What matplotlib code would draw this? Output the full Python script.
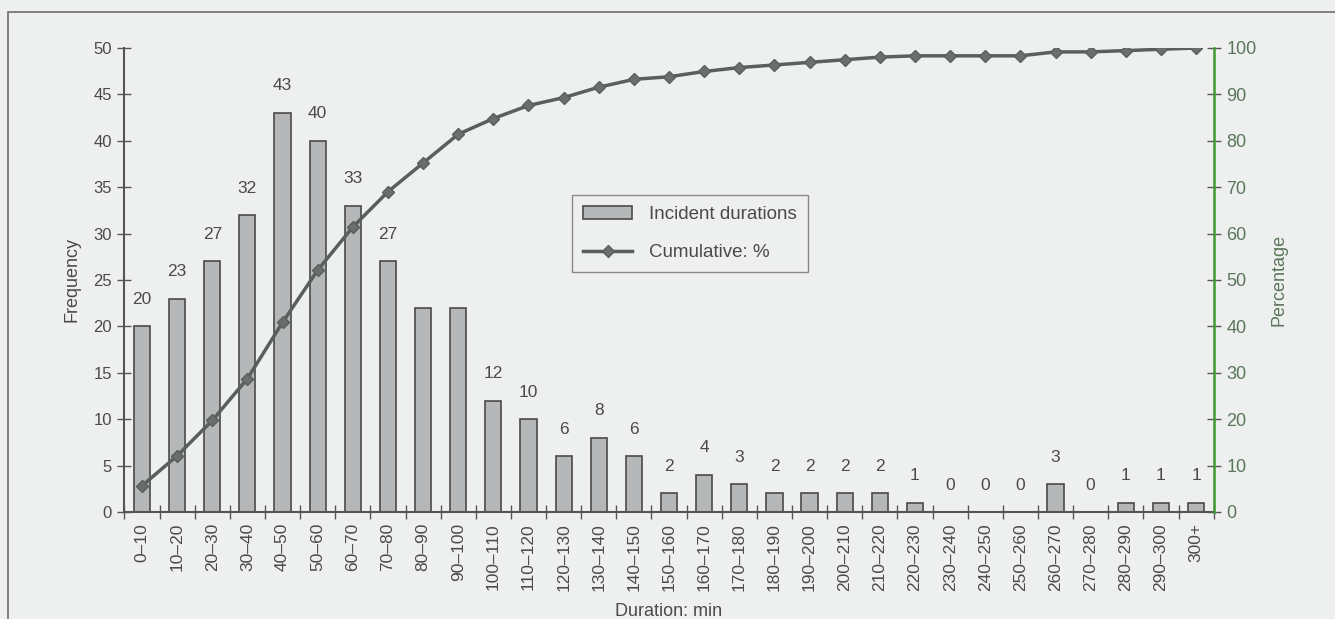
import numpy as np
import matplotlib
matplotlib.use("Agg")
import matplotlib.pyplot as plt
from matplotlib.patches import Rectangle
from matplotlib.ticker import FixedLocator, MultipleLocator

plt.rcParams['font.family'] = ['Liberation Sans', 'DejaVu Sans']

# Duration bins (minutes) and incident counts per bin
categories = ['0–10', '10–20', '20–30', '30–40', '40–50', '50–60', '60–70',
              '70–80', '80–90', '90–100', '100–110', '110–120', '120–130',
              '130–140', '140–150', '150–160', '160–170', '170–180',
              '180–190', '190–200', '200–210', '210–220', '220–230',
              '230–240', '240–250', '250–260', '260–270', '270–280',
              '280–290', '290–300', '300+']
frequencies = [20, 23, 27, 32, 43, 40, 33, 27, 22, 22, 12, 10, 6, 8, 6, 2, 4,
               3, 2, 2, 2, 2, 1, 0, 0, 0, 3, 0, 1, 1, 1]
# bins whose count label sits under the cumulative curve and is left out
unlabelled = ['80–90', '90–100']

freq = np.array(frequencies, dtype=float)
cumulative_pct = np.cumsum(freq) / freq.sum() * 100.0
x = np.arange(len(categories))

TEXT = '#4a4a4a'
AXIS = '#555555'
GREEN = '#3c9a32'
GREEN_TEXT = '#5a765a'
BG = '#eef0ef'

fig = plt.figure(figsize=(13.35, 6.19), dpi=100, facecolor=BG)
ax = fig.add_axes([0.0932, 0.1729, 0.8159, 0.7496], facecolor='none')
ax2 = ax.twinx()

# outer frame around the figure
fig.patches.append(Rectangle((8 / 1335, -0.1), 1.2, 1.1 - 12 / 619,
                             transform=fig.transFigure, fill=False,
                             edgecolor='#777777', linewidth=1.3))

bars = ax.bar(x, freq, width=0.46, color='#b5b7b9', edgecolor='#4a4a4a',
              linewidth=1.2, label='Incident durations', zorder=2)
for xi, cat, v in zip(x, categories, frequencies):
    if cat in unlabelled:
        continue
    ax.annotate(f'{v}', (xi, v), xytext=(0, 14), textcoords='offset points',
                ha='center', va='bottom', fontsize=12.5, color=TEXT)

line, = ax2.plot(x, cumulative_pct, color='#5a5f5d', linewidth=2.5,
                 marker='D', markersize=6, markerfacecolor='#6a6f6d',
                 markeredgecolor='#5a5f5d', label='Cumulative: %', zorder=3)

ax.set_xlim(-0.5, len(categories) - 0.5)
ax.set_ylim(0, 50)
ax2.set_ylim(0, 100)

ax.yaxis.set_major_locator(MultipleLocator(5))
ax2.yaxis.set_major_locator(MultipleLocator(10))

ax.set_xticks(x)
ax.set_xticklabels(categories, rotation=90, fontsize=12.5, color=TEXT)
ax.tick_params(axis='x', which='major', length=0, pad=8)
ax.xaxis.set_minor_locator(FixedLocator(np.arange(-0.5, len(categories), 1.0)))
ax.tick_params(axis='x', which='minor', direction='inout', length=10,
               width=1, color=AXIS)
ax.tick_params(axis='y', direction='inout', length=10, width=1, color=AXIS,
               labelsize=12, labelcolor=TEXT, pad=4)
ax2.tick_params(axis='y', direction='inout', length=10, width=1, color=AXIS,
                labelsize=13, labelcolor=GREEN_TEXT, pad=4)

for a in (ax, ax2):
    a.spines['top'].set_visible(False)
ax.spines['right'].set_visible(False)
ax2.spines['left'].set_visible(False)
ax2.spines['bottom'].set_visible(False)
ax.spines['left'].set_color(AXIS)
ax.spines['left'].set_linewidth(1.5)
ax.spines['bottom'].set_color(AXIS)
ax.spines['bottom'].set_linewidth(1.5)
ax2.spines['right'].set_color(GREEN)
ax2.spines['right'].set_linewidth(1.8)

ax.set_ylabel('Frequency', fontsize=13, color=TEXT, labelpad=9)
ax2.set_ylabel('Percentage', fontsize=13, color=GREEN_TEXT, labelpad=10)
ax.set_xlabel('Duration: min', fontsize=13, color=TEXT, labelpad=9)

leg = ax2.legend([bars, line], ['Incident durations', 'Cumulative: %'],
                 loc='upper left', bbox_to_anchor=(0.411, 0.683),
                 fontsize=13.5, frameon=True, fancybox=False,
                 edgecolor='#888888', facecolor=BG, framealpha=1,
                 borderpad=0.6, labelspacing=1.1, handlelength=2.6,
                 handletextpad=0.9, borderaxespad=0)
for t in leg.get_texts():
    t.set_color(TEXT)
leg.get_frame().set_linewidth(1.0)
leg.set_zorder(5)

fig.savefig('out.png', dpi=100, facecolor=BG)
